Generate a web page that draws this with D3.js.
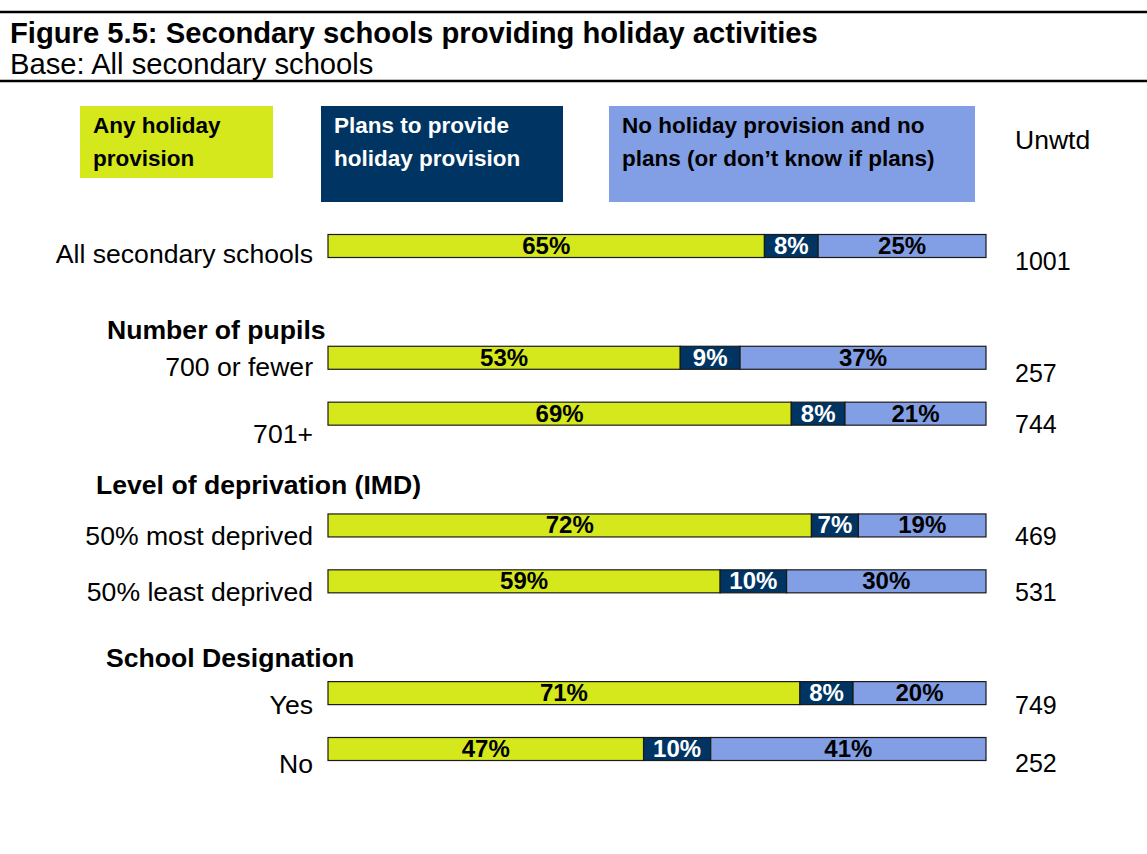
<!DOCTYPE html>
<html>
<head>
<meta charset="utf-8">
<script src="https://cdn.jsdelivr.net/npm/d3@7"></script>
<style>
  html, body { margin: 0; padding: 0; background: #fff; }
  svg { display: block; font-family: Arial, "Liberation Sans", sans-serif; }
</style>
</head>
<body>
<svg id="chart" width="1147" height="854"></svg>
<script>
// ---------- data ----------
const categories = ["All secondary schools", "700 or fewer", "701+", "50% most deprived", "50% least deprived", "Yes", "No"];
const anyProvision = [65, 53, 69, 72, 59, 71, 47];
const plansToProvide = [8, 9, 8, 7, 10, 8, 10];
const noProvision = [25, 37, 21, 19, 30, 20, 41];
const unweightedBase = [1001, 257, 744, 469, 531, 749, 252];
const seriesNames = ["Any holiday provision", "Plans to provide holiday provision", "No holiday provision and no plans (or don\u2019t know if plans)"];
const groupHeaders = ["Number of pupils", "Level of deprivation (IMD)", "School Designation"];

// ---------- layout (not data) ----------
const rowSlot = [0, 2, 3, 5, 6, 8, 9];          // vertical slot of each bar
const headerSlot = [1, 4, 7];
const headerDy = [37, 24, 30];
const headerX = [107, 96, 106];
const labelDy = [17, 18, 29, 20, 20, 21, 24];
const baseDy = [24, 24, 19, 20, 20, 21, 23];
const colors = ["#d4e81c", "#003462", "#829fe5"];
const textColors = ["#000", "#fff", "#000"];

const svg = d3.select("#chart");
const W = 1147;

// title block
svg.append("line").attr("x1", 0).attr("x2", W).attr("y1", 12).attr("y2", 12).attr("stroke", "#000").attr("stroke-width", 2.5);
svg.append("line").attr("x1", 0).attr("x2", W).attr("y1", 81).attr("y2", 81).attr("stroke", "#000").attr("stroke-width", 2.5);
svg.append("text").attr("x", 10).attr("y", 43).attr("font-size", 29.2).attr("font-weight", "bold")
  .text("Figure 5.5: Secondary schools providing holiday activities");
svg.append("text").attr("x", 10).attr("y", 74).attr("font-size", 29.2)
  .text("Base: All secondary schools");

// legend
const legendBoxes = [
  {x: 80, y: 106, w: 193, h: 72, tx: 93, lines: ["Any holiday", "provision"]},
  {x: 321, y: 106, w: 242, h: 96, tx: 334, lines: ["Plans to provide", "holiday provision"]},
  {x: 609, y: 106, w: 366, h: 96, tx: 622, lines: ["No holiday provision and no", "plans (or don\u2019t know if plans)"]}
];
legendBoxes.forEach((b, i) => {
  const g = svg.append("g").attr("class", "legend-item").attr("data-series", seriesNames[i]);
  g.append("rect").attr("x", b.x).attr("y", b.y).attr("width", b.w).attr("height", b.h).attr("fill", colors[i]);
  g.selectAll("text.l").data(b.lines).join("text")
    .attr("x", b.tx).attr("y", (d, j) => 133 + j * 33)
    .attr("font-size", 22.5).attr("font-weight", "bold").attr("fill", textColors[i])
    .text(d => d);
});
svg.append("text").attr("x", 1015).attr("y", 149).attr("font-size", 26.5).text("Unwtd");

// scales
const x = d3.scaleLinear().domain([0, 1]).range([328, 986]);
const y = d3.scaleLinear().domain([0, 9]).range([246, 749]);
const barH = 23;

const rows = categories.map((c, i) => ({cat: c, a: anyProvision[i], p: plansToProvide[i], n: noProvision[i], i}));
const stack = d3.stack().keys(["a", "p", "n"]).offset(d3.stackOffsetExpand);
const stacked = stack(rows);

const gBars = svg.append("g");
stacked.forEach((layer, k) => {
  const g = gBars.append("g").attr("fill", colors[k]);
  g.selectAll("rect").data(layer).join("rect")
    .attr("x", d => x(d[0]))
    .attr("width", d => x(d[1]) - x(d[0]))
    .attr("y", d => y(rowSlot[d.data.i]) - barH / 2)
    .attr("height", barH)
    .attr("stroke", "#1a1a1a").attr("stroke-width", 1.2);
  g.selectAll("text").data(layer).join("text")
    .attr("x", d => (x(d[0]) + x(d[1])) / 2)
    .attr("y", d => y(rowSlot[d.data.i]) + 8)
    .attr("text-anchor", "middle")
    .attr("font-size", 24).attr("font-weight", "bold")
    .attr("fill", textColors[k])
    .text(d => d.data[layer.key] + "%");
});

// category labels
svg.append("g").selectAll("text").data(rows).join("text")
  .attr("x", 313).attr("y", d => y(rowSlot[d.i]) + labelDy[d.i])
  .attr("text-anchor", "end").attr("font-size", 26.6)
  .text(d => d.cat);

// group headers
svg.append("g").selectAll("text").data(groupHeaders).join("text")
  .attr("x", (d, i) => headerX[i]).attr("y", (d, i) => y(headerSlot[i]) + headerDy[i])
  .attr("font-size", 26.6).attr("font-weight", "bold")
  .text(d => d);

// unweighted bases
svg.append("g").selectAll("text").data(rows).join("text")
  .attr("x", 1015).attr("y", d => y(rowSlot[d.i]) + baseDy[d.i])
  .attr("font-size", 25)
  .text(d => unweightedBase[d.i]);
</script>
</body>
</html>
